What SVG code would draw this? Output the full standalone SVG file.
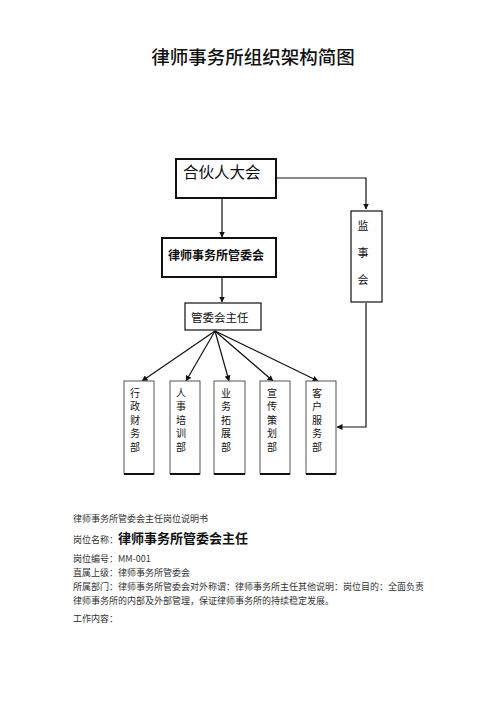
<svg xmlns="http://www.w3.org/2000/svg" width="500" height="708" viewBox="0 0 500 708">
<style>
.t{font-family:"Noto Sans CJK SC","Liberation Sans",sans-serif;fill:#111}
.d{font-family:"Noto Sans CJK SC","Liberation Serif",serif;fill:#333;font-size:9px}
.box{fill:#fff;stroke:#111}
.dept{fill:#fff;stroke:#555;stroke-width:1}
.ln{fill:none;stroke:#111;stroke-width:1.2}
</style>
<defs>
<marker id="ah" markerWidth="6" markerHeight="6" refX="5.5" refY="3" orient="auto" markerUnits="userSpaceOnUse">
<path d="M0,0 L6,3 L0,6 z" fill="#111"/>
</marker>
</defs>
<rect width="500" height="708" fill="#fff"/>
<text class="t" x="253" y="64" font-size="18.5" font-weight="500" text-anchor="middle">律师事务所组织架构简图</text>

<g id="connectors">
<path class="ln" d="M276,178 H366 V209" marker-end="url(#ah)"/>
<path class="ln" d="M222,198 V237" marker-end="url(#ah)"/>
<path class="ln" d="M222,277 V302" marker-end="url(#ah)"/>
<path class="ln" d="M215,331 L142,381" marker-end="url(#ah)"/>
<path class="ln" d="M215,331 L186,381" marker-end="url(#ah)"/>
<path class="ln" d="M215,331 L229,381" marker-end="url(#ah)"/>
<path class="ln" d="M215,331 L273,381" marker-end="url(#ah)"/>
<path class="ln" d="M215,331 L318,381" marker-end="url(#ah)"/>
<path class="ln" d="M366,303 V427 H337" marker-end="url(#ah)"/>
</g>

<g id="n-partners">
<rect class="box" x="176" y="159" width="100" height="39" stroke-width="2"/>
<text class="t" x="183" y="178" font-size="15.5">合伙人大会</text>
</g>
<g id="n-committee">
<rect class="box" x="162" y="238" width="114" height="39" stroke-width="2"/>
<text class="t" x="168" y="259.5" font-size="12" font-weight="bold">律师事务所管委会</text>
</g>
<g id="n-director">
<rect class="box" x="185" y="303" width="76" height="27" stroke-width="1.2"/>
<text class="t" x="191" y="322" font-size="11.5">管委会主任</text>
</g>
<g id="n-supervisors">
<rect class="box" x="351" y="211" width="31" height="91" stroke-width="1.2"/>
<text class="t" font-size="11" text-anchor="middle"><tspan x="363" y="230">监</tspan><tspan x="363" y="257">事</tspan><tspan x="363" y="284">会</tspan></text>
</g>

<g id="n-admin">
<rect class="dept" x="124" y="381" width="30" height="93"/>
<line x1="124" y1="474" x2="154" y2="474" stroke="#111" stroke-width="2"/>
<text class="t" font-size="10" text-anchor="middle"><tspan x="135" y="396.5">行</tspan><tspan x="135" y="410">政</tspan><tspan x="135" y="423.5">财</tspan><tspan x="135" y="437">务</tspan><tspan x="135" y="450.5">部</tspan></text>
</g>
<g id="n-hr">
<rect class="dept" x="170" y="381" width="30" height="93"/>
<line x1="170" y1="474" x2="200" y2="474" stroke="#111" stroke-width="2"/>
<text class="t" font-size="10" text-anchor="middle"><tspan x="181" y="396.5">人</tspan><tspan x="181" y="410">事</tspan><tspan x="181" y="423.5">培</tspan><tspan x="181" y="437">训</tspan><tspan x="181" y="450.5">部</tspan></text>
</g>
<g id="n-biz">
<rect class="dept" x="214" y="381" width="31" height="93"/>
<line x1="214" y1="474" x2="245" y2="474" stroke="#111" stroke-width="2"/>
<text class="t" font-size="10" text-anchor="middle"><tspan x="226" y="396.5">业</tspan><tspan x="226" y="410">务</tspan><tspan x="226" y="423.5">拓</tspan><tspan x="226" y="437">展</tspan><tspan x="226" y="450.5">部</tspan></text>
</g>
<g id="n-pr">
<rect class="dept" x="260" y="381" width="30" height="93"/>
<line x1="260" y1="474" x2="290" y2="474" stroke="#111" stroke-width="2"/>
<text class="t" font-size="10" text-anchor="middle"><tspan x="272" y="396.5">宣</tspan><tspan x="272" y="410">传</tspan><tspan x="272" y="423.5">策</tspan><tspan x="272" y="437">划</tspan><tspan x="272" y="450.5">部</tspan></text>
</g>
<g id="n-client">
<rect class="dept" x="306" y="381" width="30" height="93"/>
<line x1="306" y1="474" x2="336" y2="474" stroke="#111" stroke-width="2"/>
<text class="t" font-size="10" text-anchor="middle"><tspan x="317" y="396.5">客</tspan><tspan x="317" y="410">户</tspan><tspan x="317" y="423.5">服</tspan><tspan x="317" y="437">务</tspan><tspan x="317" y="450.5">部</tspan></text>
</g>

<g id="description">
<text class="d" x="73" y="522">律师事务所管委会主任岗位说明书</text>
<text class="d" x="73" y="543">岗位名称：<tspan font-size="13" font-weight="bold" fill="#111">律师事务所管委会主任</tspan></text>
<text class="d" x="73" y="562">岗位编号：MM-001</text>
<text class="d" x="73" y="576">直属上级：律师事务所管委会</text>
<text class="d" x="73" y="590">所属部门：律师事务所管委会对外称谓：律师事务所主任其他说明：岗位目的：全面负责</text>
<text class="d" x="73" y="604">律师事务所的内部及外部管理，保证律师事务所的持续稳定发展。</text>
<text class="d" x="73" y="622">工作内容：</text>
</g>
</svg>
